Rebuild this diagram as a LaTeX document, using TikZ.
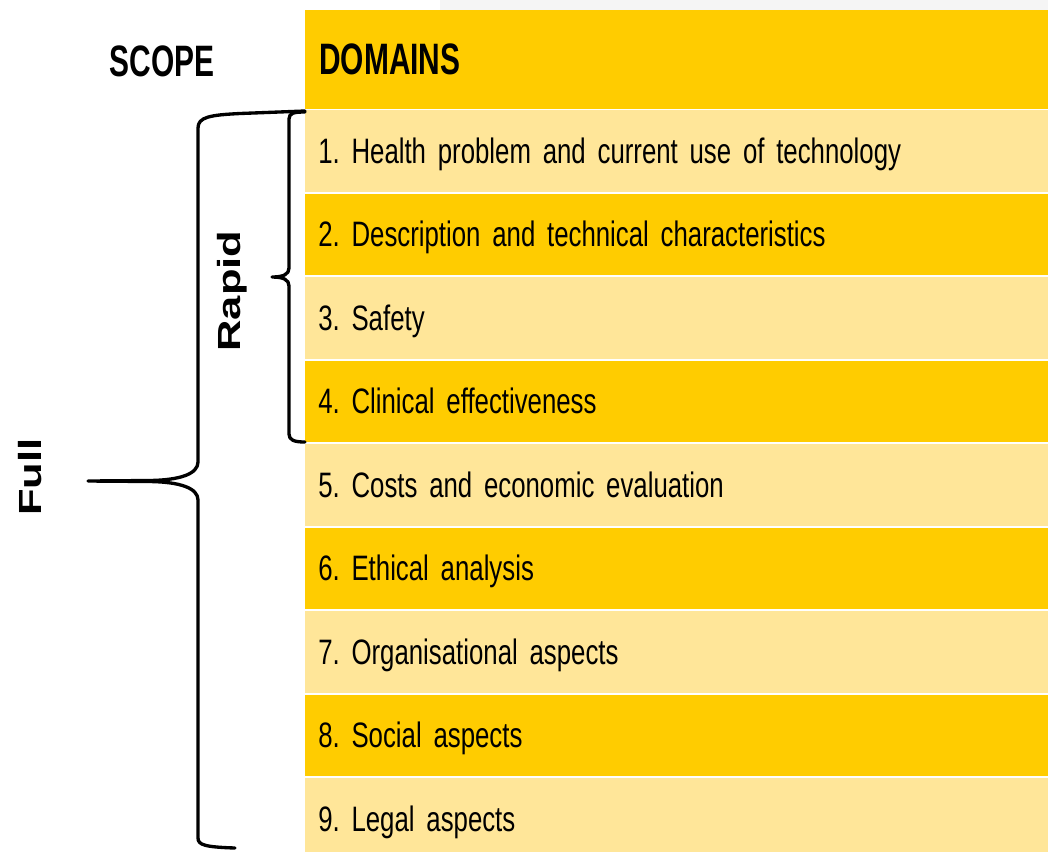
\documentclass[tikz,border=0pt]{standalone}
\usepackage{fontspec}
\setmainfont{Liberation Sans}
\newfontfamily\rowfont[FakeStretch=0.73]{Liberation Sans}
\newfontfamily\headfont[FakeStretch=0.68]{Liberation Sans}
\newfontfamily\tallfont[FakeStretch=1.36]{Liberation Sans}
\newcommand\rowtextstyle{\rowfont\fontsize{26.5}{30}\selectfont\spaceskip=4.8pt plus 1pt minus 1pt\relax}
\definecolor{darkyellow}{HTML}{FFCC00}
\definecolor{lightyellow}{HTML}{FFE699}
\frenchspacing

\begin{document}
\begin{tikzpicture}[x=0.75pt, y=-0.75pt,
        % stili generali
        heading/.style={font=\headfont\bfseries\fontsize{33}{36}\selectfont, inner sep=0pt},
        rowbox/.style={anchor=north west, minimum height=61.1pt, text width=537.75pt,
            inner xsep=9.75pt, inner ysep=0pt, align=left, text depth=1pt,
            font=\rowtextstyle},
        darkrow/.style={rowbox, fill=darkyellow},
        lightrow/.style={rowbox, fill=lightyellow},
        scopelabel/.style={font=\tallfont\bfseries\fontsize{24}{26}\selectfont, rotate=90, inner sep=0pt},
        curly/.style={draw=black, line width=2.5pt, line cap=round, line join=round}
    ]
    \useasboundingbox (0,0) rectangle (1048,851);
    \fill[black!4] (440,0) rectangle (1048,10);

    % 1. Intestazioni
    \fill[darkyellow] (305,10) rectangle (1048,108.5);
    \node[heading, anchor=west] (domains) at (319,59) {DOMAINS};
    \node[heading] (scope) at (162,61) {SCOPE};

    % 2. Righe dei domini (alternate chiaro/scuro)
    \node[lightrow] (row1) at (305,110)   {1. Health problem and current use of technology};
    \node[darkrow]  (row2) at (305,193.5) {2. Description and technical characteristics};
    \node[lightrow] (row3) at (305,277)   {3. Safety};
    \node[darkrow]  (row4) at (305,360.5) {4. Clinical effectiveness};
    \node[lightrow] (row5) at (305,444)   {5. Costs and economic evaluation};
    \node[darkrow]  (row6) at (305,527.5) {6. Ethical analysis};
    \node[lightrow] (row7) at (305,611)   {7. Organisational aspects};
    \node[darkrow]  (row8) at (305,694.5) {8. Social aspects};
    \node[lightrow] (row9) at (305,778)   {9. Legal aspects};

    % 3. Parentesi graffa "Rapid" (domini 1-4)
    \draw[curly] (305,112) .. controls (294,112) and (289,113) .. (289,119)
        -- (289,268) .. controls (289,274) and (284,277) .. (272,277)
        .. controls (284,277) and (289,280) .. (289,286)
        -- (289,434) .. controls (289,440) and (294,442) .. (305,442);
    \node[scopelabel] (rapid) at (232,291) {Rapid};

    % 4. Parentesi graffa "Full" (tutti i domini)
    \draw[curly] (305,111) -- (240,113.5) .. controls (210,115) and (198,117) .. (198,128)
        -- (198,462) .. controls (198,474) and (180,480) .. (150,480.5) -- (88,481)
        -- (150,481.5) .. controls (180,482) and (198,488) .. (198,500)
        -- (198,838) .. controls (198,845) and (205,847) .. (235,848);
    \node[scopelabel] (full) at (30,477) {Full};

\end{tikzpicture}
\end{document}
